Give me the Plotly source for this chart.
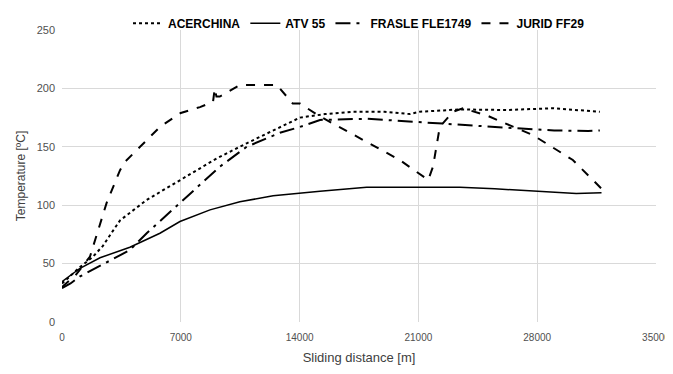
import plotly.graph_objects as go

acer_x = [0, 1060, 1830, 2400, 3000, 3420, 4990, 6950, 9110, 10880, 12440, 14020, 15500, 17140, 19000, 20500, 21080, 23440, 26190, 28930, 31690]
acer_y = [33, 47, 56, 65, 78, 87, 104.5, 121.6, 140, 153, 164, 175, 178, 180, 180, 178, 180, 182, 181.5, 183, 180]

atv_x = [0, 1060, 2240, 4000, 5770, 6950, 8720, 10480, 12440, 14020, 15200, 17950, 21000, 23440, 25500, 27750, 30300, 31790]
atv_y = [34.5, 46, 55, 64, 76, 86, 96, 103, 108, 110.4, 112, 115.3, 115.5, 115.3, 114, 112.4, 110, 110.7]

fras_x = [0, 500, 1060, 2000, 4000, 4990, 6950, 9300, 10880, 12840, 14020, 15200, 17950, 20000, 22260, 24500, 26600, 29000, 31000, 31690]
fras_y = [29, 33, 39, 46, 61.6, 76, 102, 133, 150, 162, 167, 173, 174, 172, 170, 168, 166, 164, 163.5, 164]

jur_x = [0, 800, 1650, 2630, 3420, 3700, 4600, 5770, 7000, 8130, 8900, 9000, 9100, 9300, 10500, 12650, 13600, 14020, 15200, 17550, 19900, 21580, 21860, 22260, 23040, 23620, 25000, 27750, 30100, 31870]
jur_y = [30, 40, 56, 102, 130, 137, 150, 167, 179, 184, 188.6, 200, 193, 193, 203, 203, 187, 187, 176, 157.5, 138.7, 121.6, 133, 167, 180, 183, 177, 160, 138.7, 113]

x_ticks = [0, 7000, 14000, 21000, 28000, 35000]
y_ticks = [0, 50, 100, 150, 200, 250]

fig = go.Figure()
fig.add_trace(go.Scatter(x=acer_x, y=acer_y, mode="lines", name="ACERCHINA",
                         line=dict(color="black", width=2, dash="dot")))
fig.add_trace(go.Scatter(x=atv_x, y=atv_y, mode="lines", name="ATV 55",
                         line=dict(color="black", width=1.5)))
fig.add_trace(go.Scatter(x=fras_x, y=fras_y, mode="lines", name="FRASLE FLE1749",
                         line=dict(color="black", width=2, dash="longdashdot")))
fig.add_trace(go.Scatter(x=jur_x, y=jur_y, mode="lines", name="JURID FF29",
                         line=dict(color="black", width=2, dash="dash")))

fig.update_layout(
    template="none",
    width=665, height=366,
    margin=dict(l=54, r=17, t=22, b=52, autoexpand=False),
    plot_bgcolor="white", paper_bgcolor="white",
    font=dict(family="Liberation Sans, Arial, sans-serif", color="#505050", size=11),
    legend=dict(orientation="h", x=0.5, xanchor="center", yref="container", y=0.998, yanchor="top",
                font=dict(size=12, color="black", family="Liberation Sans, Arial, sans-serif", weight="bold"),
                itemwidth=30, tracegroupgap=0, bgcolor="rgba(0,0,0,0)"),
    showlegend=True,
)
fig.update_xaxes(range=[0, 35000], tickvals=x_ticks, ticktext=[str(v) for v in x_ticks],
                 showgrid=True, gridcolor="#d9d9d9", gridwidth=1, zeroline=False,
                 showline=False, ticks="", automargin=False, ticklabelstandoff=8,
                 ticklabeloverflow="allow",
                 tickfont=dict(size=10, color="#505050"),
                 title=dict(text="Sliding distance [m]", font=dict(size=13, color="#404040"), standoff=10))
fig.update_yaxes(range=[0, 250], tickvals=y_ticks, ticktext=[str(v) for v in y_ticks],
                 showgrid=True, gridcolor="#d9d9d9", gridwidth=1, zeroline=False,
                 showline=False, ticks="", automargin=False, ticklabelstandoff=6,
                 tickfont=dict(size=11, color="#505050"),
                 title=dict(text="Temperature [ºC]", font=dict(size=12, color="#404040"), standoff=8))

fig.write_html("out.html")
